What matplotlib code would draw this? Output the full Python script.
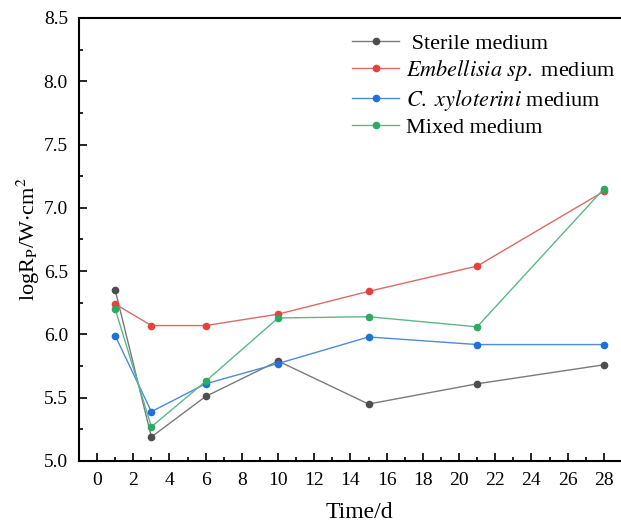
import matplotlib
matplotlib.use("Agg")
import matplotlib.pyplot as plt
from matplotlib.ticker import MultipleLocator

plt.rcParams['font.family'] = ['Liberation Serif', 'DejaVu Serif']
plt.rcParams['mathtext.fontset'] = 'stix'

days = [1, 3, 6, 10, 15, 21, 28]
sterile = [6.35, 5.19, 5.51, 5.79, 5.45, 5.61, 5.76]
embellisia = [6.24, 6.07, 6.07, 6.16, 6.34, 6.54, 7.13]
xyloterini = [5.99, 5.39, 5.61, 5.77, 5.98, 5.92, 5.92]
mixed = [6.20, 5.27, 5.63, 6.13, 6.14, 6.06, 7.15]

labels = [" Sterile medium",
          r"$\it{Embellisia\ sp.}$ medium",
          r"$\it{C.\ xyloterini}$ medium",
          "Mixed medium"]
marker_colors = ["#4d4d4d", "#e8413c", "#1f6fdc", "#2daa62"]
line_colors = ["#7a7a7a", "#dd6a66", "#4f8ad8", "#5cb888"]

fig = plt.figure(figsize=(6.21, 5.23), dpi=100)
ax = fig.add_axes([79 / 621, 1 - 461 / 523, 561 / 621, 443 / 523])

for ys, lab, mc, lc in zip([sterile, embellisia, xyloterini, mixed], labels, marker_colors, line_colors):
	ax.plot(days, ys, color=lc, linewidth=1.0, marker='o', markersize=4.5,
	        markerfacecolor=mc, markeredgecolor=mc, label=lab)

ax.set_xlim(-1, 30)
ax.set_ylim(5.0, 8.5)
ax.xaxis.set_major_locator(MultipleLocator(2))
ax.xaxis.set_minor_locator(MultipleLocator(1))
ax.yaxis.set_major_locator(MultipleLocator(0.5))
ax.yaxis.set_minor_locator(MultipleLocator(0.25))
ax.set_xticks(range(0, 29, 2))
ax.yaxis.set_major_formatter(plt.FormatStrFormatter('%.1f'))
ax.tick_params(which='both', direction='in', top=False, right=False, labelsize=14, width=1.2)
ax.tick_params(which='major', length=6, pad=8)
ax.tick_params(which='minor', length=3)
for s in ax.spines.values():
	s.set_linewidth(1.5)

ax.set_xlabel("Time/d", fontsize=17, labelpad=9)
ax.set_ylabel(r"logR$_\mathrm{P}$/W$\cdot$cm$^2$", fontsize=16, labelpad=1)

leg = ax.legend(loc='upper left', bbox_to_anchor=(0.487, 0.966), frameon=False, fontsize=16,
                handlelength=2.1, handletextpad=0.3, labelspacing=0.2,
                borderaxespad=0, borderpad=0)

fig.savefig("out.png", dpi=100)
